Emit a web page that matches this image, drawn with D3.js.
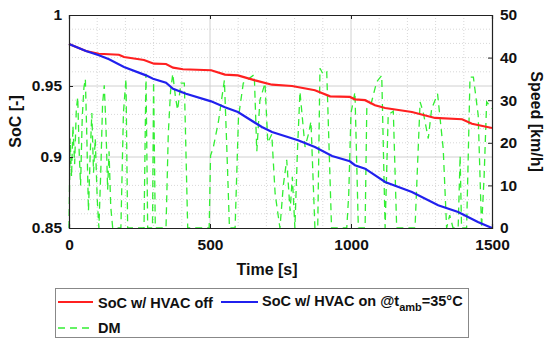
<!DOCTYPE html>
<meta charset="utf-8">
<head>
<style>
  body { margin: 0; background: #fff; }
  text { font-family: "Liberation Sans", Arial, sans-serif; font-weight: bold; }
</style>
</head>
<script src="https://d3js.org/d3.v7.min.js"></script>
<div id="my_dataviz"></div>
<script>

// SoC with HVAC off: [time s, SoC]
var socOff = [
  [0,0.9796],[60,0.9746],[106,0.9727],[177,0.972],[195,0.9704],[266,0.9683],[301,0.9657],
  [344,0.9655],[369,0.9629],[404,0.9618],[504,0.9611],[553,0.958],[599,0.9575],[660,0.954],
  [720,0.9509],[791,0.95],[872,0.947],[926,0.9427],[996,0.9423],[1014,0.9406],[1050,0.94],
  [1085,0.9364],[1121,0.9345],[1216,0.9317],[1298,0.9275],[1394,0.9266],[1429,0.9234],[1500,0.9204]
];

// SoC with HVAC on @ 35 C
var socOn = [
  [0,0.9796],[60,0.9746],[106,0.9716],[142,0.9688],[195,0.9634],[273,0.9575],[298,0.9551],
  [344,0.9523],[369,0.948],[415,0.9445],[504,0.9392],[553,0.935],[599,0.9317],[684,0.9211],
  [720,0.9176],[812,0.9118],[872,0.907],[933,0.9007],[996,0.897],[1014,0.8942],[1050,0.8918],
  [1121,0.8824],[1216,0.8754],[1309,0.866],[1380,0.8613],[1450,0.8542],[1500,0.85]
];

// driving mission speed: [time s, km/h]
var dm = [
  [0,0],[4,21],[9,12],[14,24],[20,15],[26,28],[31,30.7],[36,18],[41,10],[47,26],[53,33],[58,35],
  [63,22],[69,4],[75,17],[81,27],[87,13],[93,21],[100,7],[106,0],[113,14],[119,29],[125,33.5],
  [131,24],[137,9],[142,18],[148,5],[155,0],[184,0],[193,27],[202,35],[208,0],[266,0],[273,36.2],
  [279,0],[296,0],[300,34.3],[306,0],[344,0],[352,22],[360,32],[368,36.2],[377,31],[385,27.7],
  [397,34],[409,34],[421,0],[497,0],[502,17],[512,19],[530,25],[551,34.7],[559,20],[569,0],
  [589,0],[601,26],[618,34],[636,35],[657,36],[666,18],[677,30],[695,34],[705,20],[719,22],
  [731,8],[748,0],[760,10],[772,16],[784,4],[792,12],[801,0],[810,18],[819,32],[837,19],[849,22],
  [858,25],[872,0],[882,0],[890,37.5],[902,36],[914,36.6],[931,0],[985,0],[992,8],[1000,27],
  [1014,31.9],[1026,0],[1050,0],[1056,28],[1073,29.6],[1091,34.3],[1109,35.8],[1121,0],
  [1132,26.6],[1150,27.4],[1162,0],[1227,0],[1245,29.6],[1256,27.2],[1274,21],[1286,28],
  [1307,31.5],[1327,18.6],[1339,0],[1350,3],[1362,0],[1380,0],[1387,17],[1392,0],[1410,0],
  [1422,35.4],[1434,35.4],[1451,26.5],[1463,0],[1472,12],[1481,29.6],[1500,28]
];

var xTicks = [0, 500, 1000, 1500];
var yTicks = [0.85, 0.9, 0.95, 1];
var yTickLabels = ["0.85", "0.9", "0.95", "1"];
var y2Ticks = [0, 10, 20, 30, 40, 50];
var legendLabels = ["SoC w/ HVAC off", "SoC w/ HVAC on @t", "DM"];

var W = 550, H = 344;
var margin = {top: 15, right: 58, bottom: 116, left: 69},
    width = W - margin.left - margin.right,
    height = H - margin.top - margin.bottom;

var svg = d3.select("#my_dataviz")
  .append("svg")
    .attr("width", W)
    .attr("height", H);

var g = svg.append("g")
  .attr("transform", "translate(" + margin.left + "," + margin.top + ")");

var x = d3.scaleLinear().domain([0, 1500]).range([0, width]);
var y = d3.scaleLinear().domain([0.85, 1]).range([height, 0]);
var y2 = d3.scaleLinear().domain([0, 50]).range([height, 0]);

// minor grid (dotted)
g.append("g")
  .selectAll("line.vm")
  .data(d3.range(100, 1500, 100).filter(function(d) { return d % 500 != 0; }))
  .enter().append("line")
    .attr("x1", function(d) { return x(d); })
    .attr("x2", function(d) { return x(d); })
    .attr("y1", 0).attr("y2", height)
    .attr("stroke", "#d8d8d8").attr("stroke-dasharray", "1,2");
g.append("g")
  .selectAll("line.hm")
  .data(d3.range(1, 15).filter(function(d) { return d % 5 != 0; }))
  .enter().append("line")
    .attr("x1", 0).attr("x2", width)
    .attr("y1", function(d) { return y(0.85 + d * 0.01); })
    .attr("y2", function(d) { return y(0.85 + d * 0.01); })
    .attr("stroke", "#d8d8d8").attr("stroke-dasharray", "1,2");

// major grid
g.append("g")
  .selectAll("line")
  .data(xTicks.slice(1, -1))
  .enter().append("line")
    .attr("x1", function(d) { return x(d); })
    .attr("x2", function(d) { return x(d); })
    .attr("y1", 0).attr("y2", height)
    .attr("stroke", "#d0d0d0");
g.append("g")
  .selectAll("line")
  .data(yTicks.slice(1, -1))
  .enter().append("line")
    .attr("x1", 0).attr("x2", width)
    .attr("y1", function(d) { return y(d); })
    .attr("y2", function(d) { return y(d); })
    .attr("stroke", "#d0d0d0");

// speed trace
g.append("path")
  .datum(dm)
  .attr("fill", "none")
  .attr("stroke", "#33ee33")
  .attr("stroke-width", 1.3)
  .attr("stroke-dasharray", "7,5")
  .attr("d", d3.line()
    .x(function(d) { return x(d[0]); })
    .y(function(d) { return y2(d[1]); }));

var socLine = d3.line()
  .x(function(d) { return x(d[0]); })
  .y(function(d) { return y(d[1]); });

g.append("path")
  .datum(socOff)
  .attr("fill", "none").attr("stroke", "#ff2020").attr("stroke-width", 2.2)
  .attr("d", socLine);

g.append("path")
  .datum(socOn)
  .attr("fill", "none").attr("stroke", "#2020ee").attr("stroke-width", 2.2)
  .attr("d", socLine);

// axes (MATLAB style: ticks inward, box)
g.append("g")
  .attr("transform", "translate(0," + height + ")")
  .call(d3.axisBottom(x).tickValues(xTicks).tickSize(-4).tickPadding(11).tickFormat(d3.format("d")));
g.append("g")
  .call(d3.axisTop(x).tickValues(xTicks).tickSize(-4).tickFormat(""));
g.append("g")
  .call(d3.axisLeft(y).tickValues(yTicks).tickSize(-4).tickPadding(7)
    .tickFormat(function(d, i) { return yTickLabels[i]; }));
g.append("g")
  .attr("transform", "translate(" + width + ",0)")
  .call(d3.axisRight(y2).tickValues(y2Ticks).tickSize(-4).tickPadding(8));

g.selectAll(".domain").attr("stroke", "#222").attr("stroke-width", 1.2);
g.selectAll(".tick line").attr("stroke", "#222");
g.selectAll(".tick text")
  .attr("font-size", 15.5).attr("font-weight", "bold")
  .attr("font-family", "Liberation Sans, Arial, sans-serif").attr("fill", "#111");

// axis titles
svg.append("text")
  .attr("x", 267).attr("y", 275)
  .attr("text-anchor", "middle").attr("font-size", 16).attr("fill", "#111")
  .text("Time [s]");
svg.append("text")
  .attr("transform", "translate(21," + (margin.top + height / 2) + ") rotate(-90)")
  .attr("text-anchor", "middle").attr("font-size", 16).attr("fill", "#111")
  .text("SoC [-]");
svg.append("text")
  .attr("transform", "translate(531," + (margin.top + height / 2) + ") rotate(90)")
  .attr("text-anchor", "middle").attr("font-size", 16).attr("fill", "#111")
  .text("Speed [km/h]");

// legend
var lg = svg.append("g");
lg.append("rect")
  .attr("x", 55.5).attr("y", 288.5).attr("width", 413).attr("height", 49)
  .attr("fill", "#fff").attr("stroke", "#888");
lg.append("line").attr("x1", 58).attr("x2", 93).attr("y1", 302).attr("y2", 302)
  .attr("stroke", "#ff2020").attr("stroke-width", 2.2);
lg.append("text").attr("x", 98).attr("y", 308).attr("font-size", 14.5).attr("fill", "#111")
  .text(legendLabels[0]);
lg.append("line").attr("x1", 221).attr("x2", 258).attr("y1", 302).attr("y2", 302)
  .attr("stroke", "#2020ee").attr("stroke-width", 2.2);
var t2 = lg.append("text").attr("x", 262).attr("y", 306).attr("font-size", 14.5).attr("fill", "#111");
t2.append("tspan").text(legendLabels[1]);
t2.append("tspan").attr("dy", 5).attr("font-size", 11).text("amb");
t2.append("tspan").attr("dy", -5).text("=35°C");
lg.append("line").attr("x1", 58).attr("x2", 93).attr("y1", 328).attr("y2", 328)
  .attr("stroke", "#33ee33").attr("stroke-width", 1.3).attr("stroke-dasharray", "7,5");
lg.append("text").attr("x", 98).attr("y", 333).attr("font-size", 14.5).attr("fill", "#111")
  .text(legendLabels[2]);

</script>
